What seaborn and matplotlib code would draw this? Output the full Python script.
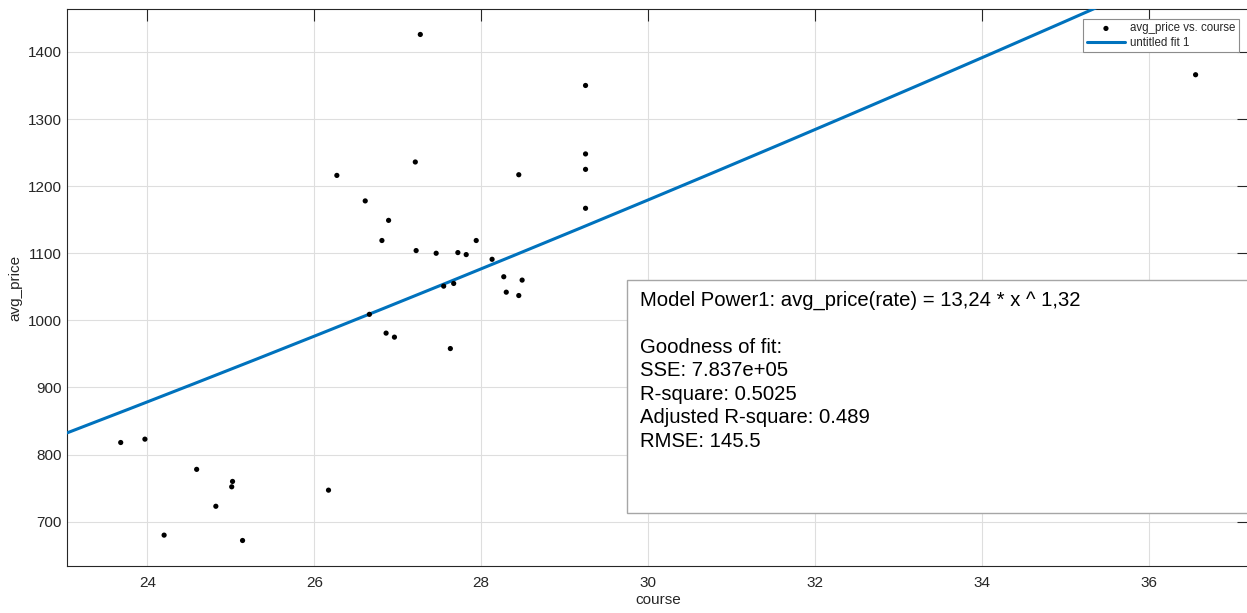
import numpy as np
import pandas as pd
import matplotlib
matplotlib.use("Agg")
import matplotlib.pyplot as plt
import seaborn as sns

# ---- data ----
course = [23.68, 23.97, 24.20, 24.59, 24.82, 25.02, 25.01, 25.14, 26.17,
          26.27, 26.61, 26.66, 26.81, 26.89, 26.86, 26.96, 27.21, 27.22,
          27.27, 27.46, 27.55, 27.63, 27.67, 27.72, 27.82, 27.94, 28.13,
          28.27, 28.30, 28.45, 28.45, 28.49, 29.25, 29.25, 29.25, 29.25,
          36.56]
avg_price = [818, 823, 680, 778, 723, 760, 752, 672, 747,
             1216, 1178, 1009, 1119, 1149, 981, 975, 1236, 1104,
             1426, 1100, 1051, 958, 1055, 1101, 1098, 1119, 1091,
             1065, 1042, 1217, 1037, 1060, 1350, 1248, 1225, 1167,
             1366]
fit_a = 13.24
fit_b = 1.32
x_ticks = [24, 26, 28, 30, 32, 34, 36]
y_ticks = [700, 800, 900, 1000, 1100, 1200, 1300, 1400]
info_lines = ["Model Power1: avg_price(rate) = 13,24 * x ^ 1,32",
              "Goodness of fit:",
              "SSE: 7.837e+05",
              "R-square: 0.5025",
              "Adjusted R-square: 0.489",
              "RMSE: 145.5"]
legend_labels = ["avg_price vs. course", "untitled fit 1"]

sns.set_theme(style="white")
plt.rcParams['font.family'] = ['Liberation Sans', 'DejaVu Sans']

W, H = 1247, 613
fig = plt.figure(figsize=(W / 100, H / 100), dpi=100)
ax_l, ax_r, ax_b, ax_t = 67.3, 1249.0, 566.0, 9.3
ax = fig.add_axes([ax_l / W, 1 - ax_b / H, (ax_r - ax_l) / W, (ax_b - ax_t) / H])

xlim = (23.04, 37.20)
ylim = (634, 1463.5)

df = pd.DataFrame({"course": course, "avg_price": avg_price})
xs = np.linspace(xlim[0], xlim[1], 300)
fit_df = pd.DataFrame({"x": xs, "y": fit_a * xs ** fit_b})

sns.lineplot(data=fit_df, x="x", y="y", ax=ax, color="#0072BD", linewidth=2.2,
             label=legend_labels[1], zorder=3)
sns.scatterplot(data=df, x="course", y="avg_price", ax=ax, color="black",
                s=14, edgecolor="none", label=legend_labels[0], zorder=4)

ax.set_xlim(*xlim)
ax.set_ylim(*ylim)
ax.set_xticks(x_ticks)
ax.set_yticks(y_ticks)
ax.grid(True, color="#dedede", linewidth=0.8)
ax.set_axisbelow(True)
dark = "#262626"
for s in ax.spines.values():
    s.set_color(dark)
    s.set_linewidth(0.8)
    s.set_visible(True)
ax.tick_params(direction="in", length=8.8, width=0.8, color=dark,
               top=True, right=True, labelsize=11, labelcolor=dark)
ax.tick_params(axis="x", pad=7)
ax.tick_params(axis="y", pad=4)
ax.set_xlabel("course", fontsize=11, color=dark, labelpad=2)
ax.set_ylabel("avg_price", fontsize=11, color=dark, labelpad=4)

# legend
handles, labels = ax.get_legend_handles_labels()
order = [labels.index(legend_labels[0]), labels.index(legend_labels[1])]
leg = ax.legend([handles[i] for i in order], [labels[i] for i in order],
                loc="upper right", bbox_to_anchor=((1239 - ax_l) / (ax_r - ax_l), 1 - (19 - ax_t) / (ax_b - ax_t)),
                borderaxespad=0, fontsize=8.3, frameon=True, fancybox=False,
                edgecolor="#8c8c8c", framealpha=1, handlelength=3.3,
                handletextpad=0.45, borderpad=0.3, labelspacing=0.2)
leg.get_frame().set_linewidth(0.8)

# info box
from matplotlib.patches import Rectangle
box = Rectangle((627.3 / W, 1 - 513.3 / H), (W + 5 - 627.3) / W, (513.3 - 280) / H,
                transform=fig.transFigure, facecolor="white", edgecolor="#a6a6a6",
                linewidth=1.0, zorder=5, clip_on=False)
fig.patches.append(box)
baselines = [305.7, 352.7, 376.2, 399.7, 423.2, 446.7]
for txt, yb in zip(info_lines, baselines):
    fig.text(640 / W, 1 - yb / H, txt, fontsize=14.6, color="black",
             ha="left", va="baseline", zorder=6)

fig.savefig("out.png", dpi=100)
